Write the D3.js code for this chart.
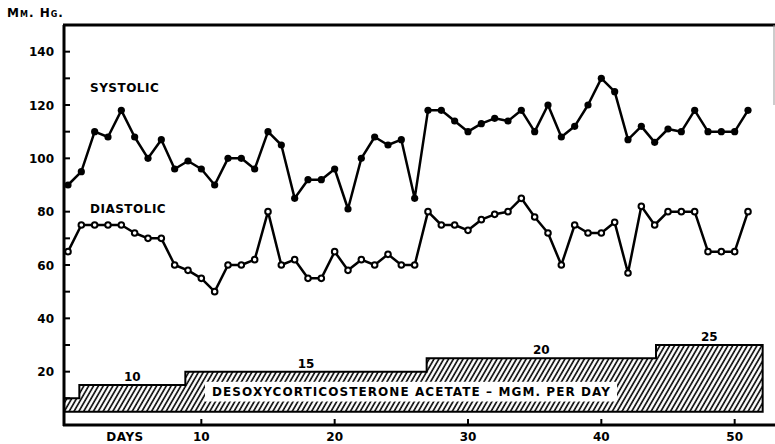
<!DOCTYPE html>
<html>
<head>
<meta charset="utf-8">
<script src="https://cdn.jsdelivr.net/npm/d3@7"></script>
<style>
    body { margin: 0; background: #fff; }
    svg text { font-family: 'DejaVu Sans', sans-serif; font-weight: bold; fill: #000; }
</style>
</head>
<body>
<div id="chart"></div>
<script>
// Data
const days = d3.range(0, 52);
const systolic = [90, 95, 110, 108, 118, 108, 100, 107, 96, 99, 96, 90, 100, 100, 96, 110, 105, 85,
    92, 92, 96, 81, 100, 108, 105, 107, 85, 118, 118, 114, 110, 113, 115, 114, 118,
    110, 120, 108, 112, 120, 130, 125, 107, 112, 106, 111, 110, 118, 110, 110, 110, 118];
const diastolic = [65, 75, 75, 75, 75, 72, 70, 70, 60, 58, 55, 50, 60, 60, 62, 80, 60, 62,
    55, 55, 65, 58, 62, 60, 64, 60, 60, 80, 75, 75, 73, 77, 79, 80, 85,
    78, 72, 60, 75, 72, 72, 76, 57, 82, 75, 80, 80, 80, 65, 65, 65, 80];

// Dose steps (mgm. per day), drawn on top of a base of 5 mm Hg
const doseBreaks = [-0.3, 0.85, 8.8, 26.9, 44.1, 52.1];
const doses = [5, 10, 15, 20, 25];
const doseLabels = ['', '10', '15', '20', '25'];
const doseBase = 5;

const yTicks = [20, 40, 60, 80, 100, 120, 140];
const yMinorTicks = [10, 30, 50, 70, 90, 110, 130];
const xTicks = [10, 20, 30, 40, 50];

const width = 775;
const height = 444;

const svg = d3.select('#chart')
    .append('svg')
    .attr('width', width)
    .attr('height', height);

const x = d3.scaleLinear().domain([0, 51]).range([68, 748]);
const y = d3.scaleLinear().domain([0, 150]).range([425, 25]);

const left = 64;
const right = 775;

// Hatch pattern
svg.append('defs').append('pattern')
    .attr('id', 'hatch')
    .attr('patternUnits', 'userSpaceOnUse')
    .attr('width', 4.2)
    .attr('height', 10)
    .attr('patternTransform', 'rotate(30)')
    .append('line')
    .attr('x1', 1).attr('y1', 0)
    .attr('x2', 1).attr('y2', 10)
    .attr('stroke', '#000')
    .attr('stroke-width', 1.6);

// Dose step area
const stepPts = [];
doses.forEach((d, i) => {
    stepPts.push([x(doseBreaks[i]), y(doseBase + d)]);
    stepPts.push([x(doseBreaks[i + 1]), y(doseBase + d)]);
});
const area = [[x(doseBreaks[0]), y(doseBase)], ...stepPts, [x(doseBreaks[doseBreaks.length - 1]), y(doseBase)]];

svg.append('path')
    .attr('d', d3.line()(area) + 'Z')
    .attr('fill', 'url(#hatch)')
    .attr('stroke', '#000')
    .attr('stroke-width', 2)
    .attr('stroke-linejoin', 'miter');

// White box behind the dose caption
svg.append('rect')
    .attr('x', 205)
    .attr('y', y(16.2))
    .attr('width', 412)
    .attr('height', y(8.8) - y(16.2))
    .attr('fill', '#fff');

svg.append('text')
    .attr('x', 212)
    .attr('y', y(12.5) + 4.5)
    .attr('textLength', 398)
    .attr('lengthAdjust', 'spacing')
    .style('font-size', '12px')
    .text('DESOXYCORTICOSTERONE ACETATE \u2013 MGM. PER DAY');

// Dose labels
svg.append('g')
    .selectAll('text')
    .data(doses.map((d, i) => ({ d, i })).filter(o => doseLabels[o.i] !== ''))
    .join('text')
    .attr('x', o => x((doseBreaks[o.i] + doseBreaks[o.i + 1]) / 2))
    .attr('y', o => y(doseBase + o.d) - 4)
    .attr('text-anchor', 'middle')
    .style('font-size', '12px')
    .text(o => doseLabels[o.i]);

// Axes frame
svg.append('line')
    .attr('x1', left).attr('x2', left)
    .attr('y1', y(150)).attr('y2', y(0) + 1)
    .attr('stroke', '#000').attr('stroke-width', 3);
svg.append('line')
    .attr('x1', left - 1).attr('x2', right)
    .attr('y1', y(0)).attr('y2', y(0))
    .attr('stroke', '#000').attr('stroke-width', 3);
svg.append('line')
    .attr('x1', left - 1).attr('x2', right)
    .attr('y1', y(150)).attr('y2', y(150))
    .attr('stroke', '#000').attr('stroke-width', 3);
svg.append('line')
    .attr('x1', 774).attr('x2', 774)
    .attr('y1', y(150)).attr('y2', y(120))
    .attr('stroke', '#999').attr('stroke-width', 1);

// Y ticks (pointing inwards)
svg.append('g')
    .selectAll('line')
    .data(yTicks.concat(yMinorTicks))
    .join('line')
    .attr('x1', left).attr('x2', left + 6)
    .attr('y1', d => y(d)).attr('y2', d => y(d))
    .attr('stroke', '#000').attr('stroke-width', 2);

svg.append('g')
    .selectAll('text')
    .data(yTicks)
    .join('text')
    .attr('x', 54)
    .attr('y', d => y(d) + 4.5)
    .attr('text-anchor', 'end')
    .style('font-size', '12px')
    .text(d => d);

// X ticks
svg.append('g')
    .selectAll('line')
    .data(xTicks)
    .join('line')
    .attr('x1', d => x(d)).attr('x2', d => x(d))
    .attr('y1', y(0)).attr('y2', y(0) - 6)
    .attr('stroke', '#000').attr('stroke-width', 2);

svg.append('g')
    .selectAll('text')
    .data(xTicks)
    .join('text')
    .attr('x', d => x(d))
    .attr('y', 441)
    .attr('text-anchor', 'middle')
    .style('font-size', '12px')
    .text(d => d);

svg.append('text')
    .attr('x', 125)
    .attr('y', 441)
    .attr('text-anchor', 'middle')
    .style('font-size', '12px')
    .style('letter-spacing', '0.5px')
    .text('DAYS');

svg.append('text')
    .attr('x', 7)
    .attr('y', 17)
    .style('font-size', '12px')
    .style('font-variant', 'small-caps')
    .style('letter-spacing', '1px')
    .text('Mm. Hg.');

// Series
const line = d3.line()
    .x((d, i) => x(days[i]))
    .y(d => y(d));

svg.append('path')
    .datum(systolic)
    .attr('d', line)
    .attr('fill', 'none')
    .attr('stroke', '#000')
    .attr('stroke-width', 2.5)
    .attr('stroke-linejoin', 'round');

svg.append('path')
    .datum(diastolic)
    .attr('d', line)
    .attr('fill', 'none')
    .attr('stroke', '#000')
    .attr('stroke-width', 2.5)
    .attr('stroke-linejoin', 'round');

svg.append('g')
    .selectAll('circle')
    .data(systolic)
    .join('circle')
    .attr('cx', (d, i) => x(days[i]))
    .attr('cy', d => y(d))
    .attr('r', 3.6)
    .attr('fill', '#000');

svg.append('g')
    .selectAll('circle')
    .data(diastolic)
    .join('circle')
    .attr('cx', (d, i) => x(days[i]))
    .attr('cy', d => y(d))
    .attr('r', 2.8)
    .attr('fill', '#fff')
    .attr('stroke', '#000')
    .attr('stroke-width', 2);

// Series labels
svg.append('text')
    .attr('x', 90)
    .attr('y', 92)
    .style('font-size', '12px')
    .style('letter-spacing', '0.5px')
    .text('SYSTOLIC');

svg.append('text')
    .attr('x', 90)
    .attr('y', 213)
    .style('font-size', '12px')
    .style('letter-spacing', '0.5px')
    .text('DIASTOLIC');
</script>
</body>
</html>
